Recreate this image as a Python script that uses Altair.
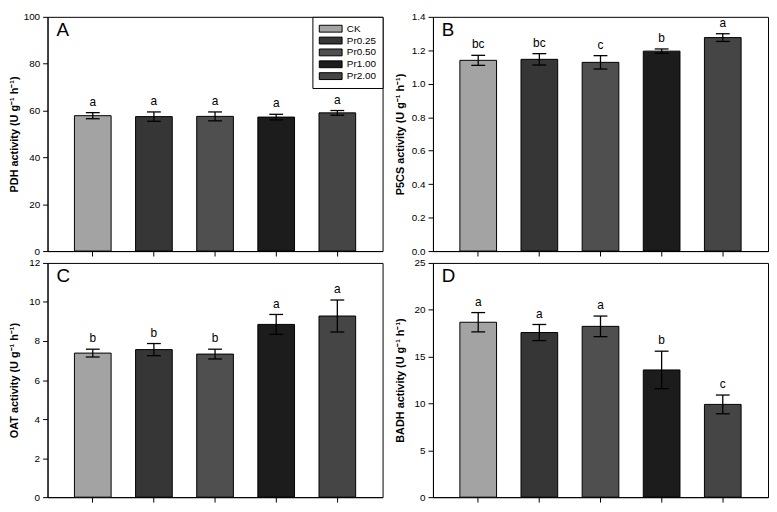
import altair as alt
import pandas as pd

groups = ["CK", "Pr0.25", "Pr0.50", "Pr1.00", "Pr2.00"]
fills = ["#a3a3a3", "#363636", "#4f4f4f", "#1c1c1c", "#454545"]

pdh_mean = [57.8, 57.4, 57.5, 57.2, 59.0]
pdh_se = [1.3, 2.0, 1.9, 1.2, 1.0]
pdh_sig = ["a", "a", "a", "a", "a"]

p5cs_mean = [1.140, 1.146, 1.128, 1.195, 1.276]
p5cs_se = [0.030, 0.034, 0.040, 0.013, 0.023]
p5cs_sig = ["bc", "bc", "c", "b", "a"]

oat_mean = [7.38, 7.56, 7.33, 8.85, 9.28]
oat_se = [0.20, 0.31, 0.25, 0.51, 0.82]
oat_sig = ["b", "b", "b", "a", "a"]

badh_mean = [18.67, 17.57, 18.23, 13.58, 9.90]
badh_se = [1.03, 0.86, 1.10, 2.00, 1.00]
badh_sig = ["a", "a", "a", "b", "c"]

FONT = "Liberation Sans"
W, H = 339, 237


def panel(mean, se, sig, letter, title, domain, ticks, fmt, legend):
    df = pd.DataFrame({
        "group": groups,
        "mean": mean,
        "lo": [m - s for m, s in zip(mean, se)],
        "hi": [m + s for m, s in zip(mean, se)],
        "sig": sig,
    })
    base = alt.Chart(df)
    xscale = alt.Scale(paddingInner=0.4, paddingOuter=0.44)
    xaxis = alt.Axis(labels=False, ticks=True, tickSize=5, title=None)
    x = alt.X("group:N", sort=groups, title=None, scale=xscale, axis=xaxis)
    yscale = alt.Scale(domain=domain, nice=False, zero=True)
    yaxis = alt.Axis(values=ticks, format=fmt, title=title, labelOverlap=False)

    def yy(field):
        return alt.Y(field, scale=yscale, axis=yaxis, title=title)

    if legend:
        leg = alt.Legend(title=None, orient="top-right", offset=0,
                         strokeColor="black", fillColor="white", padding=6,
                         symbolType="M-2.2,-0.66L2.2,-0.66L2.2,0.66L-2.2,0.66Z",
                         symbolSize=110, symbolOffset=6.5,
                         symbolStrokeColor="black",
                         symbolStrokeWidth=1, symbolOpacity=1,
                         labelFontSize=10, labelOffset=10.3, rowPadding=0,
                         labelFont=FONT, labelColor="black")
    else:
        leg = None
    bars = base.mark_bar(stroke="black", strokeWidth=1, opacity=1).encode(
        x=x, y=yy("mean:Q"),
        color=alt.Color("group:N", scale=alt.Scale(domain=groups, range=fills),
                        legend=leg),
    )
    rule = base.mark_rule(color="black", strokeWidth=1.3).encode(
        x=x, y=yy("lo:Q"), y2="hi:Q")
    cap_hi = base.mark_tick(color="black", thickness=1.3, size=14, opacity=1).encode(
        x=x, y=yy("hi:Q"))
    cap_lo = base.mark_tick(color="black", thickness=1.3, size=14, opacity=1).encode(
        x=x, y=yy("lo:Q"))
    txt = base.mark_text(baseline="bottom", dy=-4, fontSize=12, font=FONT,
                         color="black").encode(
        x=x, y=yy("hi:Q"), text="sig:N")
    lab = alt.Chart(pd.DataFrame({"t": [letter]})).mark_text(
        align="left", baseline="top", fontSize=19, font=FONT, color="black").encode(
        x=alt.value(9), y=alt.value(4), text="t:N")
    return alt.layer(bars, rule, cap_hi, cap_lo, txt, lab).properties(width=W, height=H)


A = panel(pdh_mean, pdh_se, pdh_sig, "A", "PDH activity (U g⁻¹ h⁻¹)",
          [0, 100], [0, 20, 40, 60, 80, 100], "d", True)
B = panel(p5cs_mean, p5cs_se, p5cs_sig, "B", "P5CS activity (U g⁻¹ h⁻¹)",
          [0, 1.4], [0, 0.2, 0.4, 0.6, 0.8, 1.0, 1.2, 1.4], ".1f", False)
C = panel(oat_mean, oat_se, oat_sig, "C", "OAT activity (U g⁻¹ h⁻¹)",
          [0, 12], [0, 2, 4, 6, 8, 10, 12], "d", False)
D = panel(badh_mean, badh_se, badh_sig, "D", "BADH activity (U g⁻¹ h⁻¹)",
          [0, 25], [0, 5, 10, 15, 20, 25], "d", False)

top = alt.hconcat(A, B, spacing=10).resolve_scale(color="independent", y="independent", x="independent")
bottom = alt.hconcat(C, D, spacing=10).resolve_scale(color="independent", y="independent", x="independent")

chart = alt.vconcat(top, bottom, spacing=0).resolve_scale(
    color="independent", y="independent", x="independent"
).properties(
    padding=0
).configure(
    background="white", font=FONT
).configure_view(
    stroke="black", strokeWidth=1
).configure_axis(
    grid=False, domainColor="black", tickColor="black", labelColor="black",
    titleColor="black", labelFont=FONT, titleFont=FONT, labelFontSize=10,
    titleFontSize=11, titleFontWeight="bold", tickSize=5, domainWidth=1, tickWidth=1
).configure_axisY(
    minExtent=25, maxExtent=25, titlePadding=3, labelPadding=3
)

chart.save("out.html", embed_options={"renderer": "svg", "actions": False})
